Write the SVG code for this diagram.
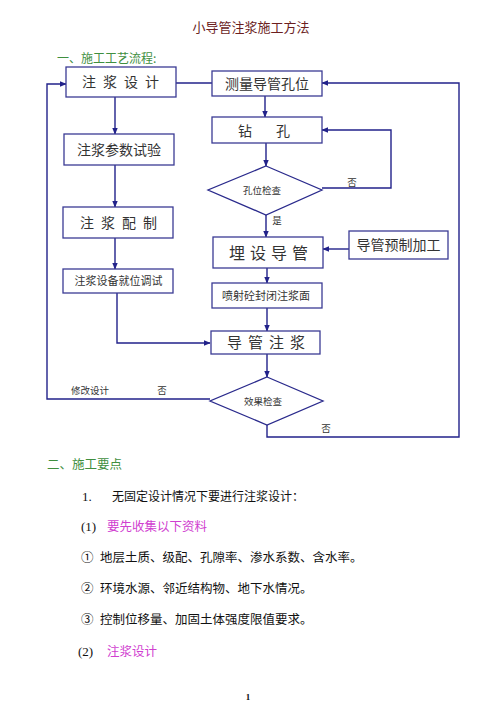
<svg xmlns="http://www.w3.org/2000/svg" width="500" height="707" viewBox="0 0 500 707">
<style>
.bg{fill:#fff}
.box{fill:#fff;stroke:#3b3b94;stroke-width:1.3}
.dia{fill:#fff;stroke:#2a2a8c;stroke-width:1.3}
.ln{fill:none;stroke:#22228a;stroke-width:1.4}
.t{font-family:"Noto Sans CJK SC","Noto Sans",sans-serif;fill:#333;text-anchor:middle}
.b14{font-size:14px}
.b11{font-size:11px}
.s10{font-size:9.5px}
.p{font-family:"Noto Sans CJK SC","Noto Sans",sans-serif;fill:#111;font-size:12.5px}
.r{font-family:"Liberation Serif",serif;fill:#111;font-size:13px}
.g{fill:#3f8f3f}
.m{fill:#d040d0}
</style>
<defs>
<marker id="ar" viewBox="0 0 10 10" refX="9" refY="5" markerWidth="7" markerHeight="7" markerUnits="userSpaceOnUse" orient="auto">
<path d="M0,1 L10,5 L0,9 z" fill="#22228a"/>
</marker>
</defs>
<rect class="bg" width="500" height="707"/>
<text x="251" y="32" style="font-family:'Noto Sans CJK SC',sans-serif;font-size:13px;fill:#6b1e1e;text-anchor:middle">小导管注浆施工方法</text>
<text x="57" y="63" class="p g" style="font-size:12px">一、施工工艺流程:</text>

<g id="connectors">
<line class="ln" x1="115" y1="97" x2="115" y2="134" marker-end="url(#ar)"/>
<line class="ln" x1="115" y1="165" x2="115" y2="207" marker-end="url(#ar)"/>
<line class="ln" x1="115" y1="238" x2="115" y2="269" marker-end="url(#ar)"/>
<polyline class="ln" points="117,293 117,343 210,343" marker-end="url(#ar)"/>
<polyline class="ln" points="210,399 47,399 47,84 66,84" marker-end="url(#ar)"/>
<line class="ln" x1="176" y1="83" x2="212" y2="83"/>
<line class="ln" x1="265" y1="96" x2="265" y2="117" marker-end="url(#ar)"/>
<line class="ln" x1="266" y1="143" x2="266" y2="166" marker-end="url(#ar)"/>
<polyline class="ln" points="322,188 391,188 391,130 322,130" marker-end="url(#ar)"/>
<line class="ln" x1="266" y1="215" x2="266" y2="237" marker-end="url(#ar)"/>
<line class="ln" x1="349" y1="249" x2="323" y2="249" marker-end="url(#ar)"/>
<line class="ln" x1="267" y1="268" x2="267" y2="283" marker-end="url(#ar)"/>
<line class="ln" x1="267" y1="308" x2="267" y2="331" marker-end="url(#ar)"/>
<line class="ln" x1="267" y1="354" x2="267" y2="377" marker-end="url(#ar)"/>
<polyline class="ln" points="267,425 267,437 459,437 459,83 322,83" marker-end="url(#ar)"/>
<text x="352" y="186" class="t s10">否</text>
<text x="277" y="224" class="t s10">是</text>
<text x="90" y="394" class="t s10">修改设计</text>
<text x="162" y="394" class="t s10">否</text>
<text x="326" y="432" class="t s10">否</text>
</g>

<g id="n1"><rect class="box" x="66" y="67" width="110" height="30"/><text x="120.5" y="87" class="t b14" textLength="77" lengthAdjust="spacing">注浆设计</text></g>
<g id="n2"><rect class="box" x="64" y="134" width="110" height="31"/><text x="119" y="155" class="t b14">注浆参数试验</text></g>
<g id="n3"><rect class="box" x="63" y="207" width="110" height="31"/><text x="118.5" y="228" class="t b14" textLength="77" lengthAdjust="spacing">注浆配制</text></g>
<g id="n4"><rect class="box" x="63" y="269" width="110" height="24"/><text x="118.5" y="285" class="t b11">注浆设备就位调试</text></g>
<g id="n5"><rect class="box" x="212" y="71" width="110" height="25"/><text x="267" y="89" class="t b14">测量导管孔位</text></g>
<g id="n6"><rect class="box" x="212" y="117" width="110" height="26"/><text x="264" y="136" class="t b14" textLength="52" lengthAdjust="spacing">钻孔</text></g>
<g id="n7"><polygon class="dia" points="266,166 322,190 266,215 208,190"/><text x="262" y="194" class="t s10">孔位检查</text></g>
<g id="n8"><rect class="box" x="213" y="237" width="110" height="31"/><text x="268.5" y="259" class="t" style="font-size:16px" textLength="79" lengthAdjust="spacing">埋设导管</text></g>
<g id="n9"><rect class="box" x="349" y="231" width="99" height="28"/><text x="398.5" y="250" class="t b14">导管预制加工</text></g>
<g id="n10"><rect class="box" x="212" y="283" width="110" height="25"/><text x="266" y="300" class="t b11">喷射砼封闭注浆面</text></g>
<g id="n11"><rect class="box" x="211" y="331" width="109" height="23"/><text x="266" y="348" class="t" style="font-size:15px" textLength="78" lengthAdjust="spacing">导管注浆</text></g>
<g id="n12"><polygon class="dia" points="267,377 323,401 267,425 210,401"/><text x="263" y="405" class="t s10">效果检查</text></g>

<text x="47" y="469" class="p g" style="font-size:12.5px">二、施工要点</text>
<text x="82" y="501" class="r">1.</text>
<text x="112" y="501" class="p" style="font-size:12px">无固定设计情况下要进行注浆设计：</text>
<text x="81" y="531" class="r">(1)</text>
<text x="107" y="531" class="p m">要先收集以下资料</text>
<text x="81" y="562" class="p">①</text>
<text x="100" y="562" class="p">地层土质、级配、孔隙率、渗水系数、含水率。</text>
<text x="81" y="593" class="p">②</text>
<text x="100" y="593" class="p">环境水源、邻近结构物、地下水情况。</text>
<text x="81" y="624" class="p">③</text>
<text x="100" y="624" class="p">控制位移量、加固土体强度限值要求。</text>
<text x="78" y="656" class="r">(2)</text>
<text x="107" y="656" class="p m">注浆设计</text>
<text x="248" y="700" style="font-family:'Liberation Serif',serif;font-size:9px;font-weight:bold;fill:#111;text-anchor:middle">1</text>
</svg>
